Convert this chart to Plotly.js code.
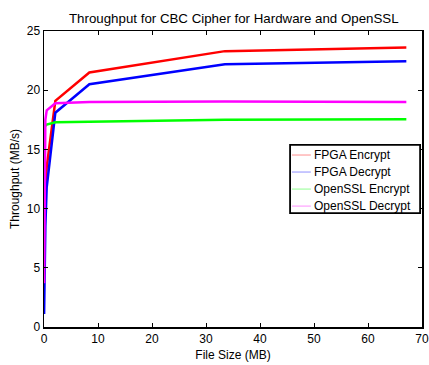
<!DOCTYPE html>
<html>
<head>
<meta charset="utf-8">
<script src="https://cdn.plot.ly/plotly-3.0.1.min.js"></script>
<style>html,body{margin:0;padding:0;background:#fff;}#chart{width:429px;height:365px;}</style>
</head>
<body>
<div id="chart"></div>
<script>
var fileSize = [0.016, 0.063, 0.25, 0.5, 2.1, 8.4, 33.5, 67.1];
var fpgaEncrypt = [4.5, 8, 11.5, 13.5, 19.1, 21.5, 23.3, 23.6];
var fpgaDecrypt = [1.1, 3.6, 8.5, 11.8, 18.1, 20.5, 22.2, 22.45];
var opensslEncrypt = [16.5, 16.8, 17.0, 17.1, 17.3, 17.35, 17.5, 17.55];
var opensslDecrypt = [3.7, 10, 17.5, 18.3, 18.9, 19.0, 19.05, 19.0];
var seriesNames = ["FPGA Encrypt", "FPGA Decrypt", "OpenSSL Encrypt", "OpenSSL Decrypt"];
var seriesColors = ["#ff0000", "#0000ff", "#00ff00", "#ff00ff"];
var legendColors = ["#ff9090", "#9090ff", "#90ff90", "#ff90ff"];
var seriesData = [fpgaEncrypt, fpgaDecrypt, opensslEncrypt, opensslDecrypt];

var traces = seriesData.map(function (ys, i) {
  return {
    x: fileSize, y: ys, type: "scatter", mode: "lines",
    name: seriesNames[i], showlegend: false,
    line: {color: seriesColors[i], width: 2.5}
  };
});

var font = {family: "Liberation Sans, Arial, sans-serif", size: 12, color: "#000"};

// custom compact legend (paper coordinates)
var lg = {x0: 0.651, x1: 0.995, y0: 0.385, y1: 0.615, lineX0: 0.656, lineX1: 0.706, textX: 0.709, rowTop: 0.581, rowStep: 0.0575};
var shapes = [{type: "rect", xref: "paper", yref: "paper", x0: lg.x0, x1: lg.x1, y0: lg.y0, y1: lg.y1,
  line: {color: "#000", width: 1.8}, fillcolor: "#fff", layer: "above"}];
var annotations = [];
seriesNames.forEach(function (nm, i) {
  var yy = lg.rowTop - i * lg.rowStep;
  shapes.push({type: "line", xref: "paper", yref: "paper", x0: lg.lineX0, x1: lg.lineX1, y0: yy, y1: yy,
    line: {color: legendColors[i], width: 1}, layer: "above"});
  annotations.push({xref: "paper", yref: "paper", x: lg.textX, y: yy, xanchor: "left", yanchor: "middle",
    text: nm, showarrow: false, font: font});
});

var layout = {
  width: 429, height: 365,
  margin: {l: 44, r: 7, t: 31, b: 38},
  paper_bgcolor: "#fff", plot_bgcolor: "#fff",
  font: font,
  showlegend: false,
  shapes: shapes,
  annotations: annotations,
  title: {text: "Throughput for CBC Cipher for Hardware and OpenSSL", font: {family: font.family, size: 13.3, color: "#000"}, x: 0.545, xanchor: "center", y: 0.95, yanchor: "middle"},
  xaxis: {
    range: [0, 70], tickvals: [0, 10, 20, 30, 40, 50, 60, 70],
    ticks: "inside", ticklen: 4, tickcolor: "#000", mirror: "ticks",
    showline: true, linecolor: "#000", linewidth: 1.5, showgrid: false, zeroline: false,
    title: {text: "File Size (MB)", font: font, standoff: 5},
    tickfont: font
  },
  yaxis: {
    range: [0, 25], tickvals: [0, 5, 10, 15, 20, 25],
    ticks: "inside", ticklen: 4, tickcolor: "#000", mirror: "ticks",
    showline: true, linecolor: "#000", linewidth: 1.5, showgrid: false, zeroline: false,
    title: {text: "Throughput (MB/s)", font: font, standoff: 4},
    tickfont: font
  }
};
Plotly.newPlot("chart", traces, layout, {displayModeBar: false, staticPlot: true});
</script>
</body>
</html>
